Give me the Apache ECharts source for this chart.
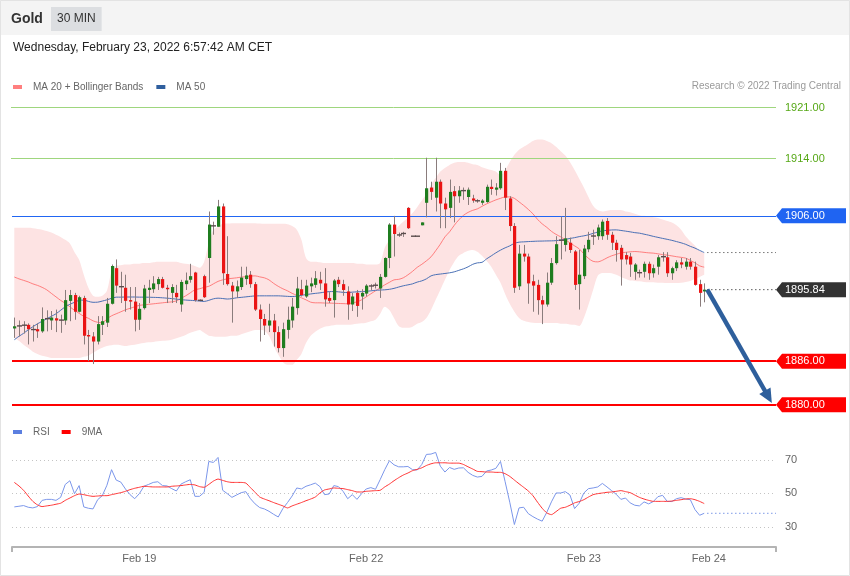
<!DOCTYPE html>
<html><head><meta charset="utf-8">
<script src="https://cdn.jsdelivr.net/npm/echarts@6/dist/echarts.min.js"></script>
<style>html,body{margin:0;padding:0;background:#fff;}#c{width:850px;height:576px;}</style>
</head><body><div id="c"></div>
<script>
// ---- data ----
const open = [1890.5,1890.8,1890.9,1891.0,1890.4,1890.4,1890.1,1891.8,1891.6,1891.9,
1891.6,1891.6,1894.3,1895.1,1892.8,1894.7,1889.6,1889.4,1888.7,1891.0,
1891.3,1893.9,1898.8,1896.3,1896.1,1894.4,1894.2,1891.7,1893.3,1895.8,
1895.9,1896.6,1897.3,1896.1,1895.4,1895.4,1893.8,1896.6,1897.2,1898.2,
1894.4,1897.7,1900.2,1904.65,1904.5,1907.3,1898.0,1896.4,1895.6,1896.2,
1897.3,1897.9,1896.6,1893.1,1891.8,1890.9,1891.6,1890.0,1887.8,1890.3,
1891.6,1893.3,1895.9,1894.9,1896.3,1896.5,1897.2,1896.7,1894.7,1894.4,
1897.2,1896.6,1895.6,1893.8,1895.4,1894.9,1895.3,1896.4,1896.4,1896.0,
1897.6,1900.2,1904.8,1903.4,1903.6,1907.1,1903.2,1903.2,1904.7,1907.8,
1909.9,1908.5,1910.7,1907.7,1907.1,1909.4,1908.7,1909.5,1908.6,1908.4,
1908.1,1907.8,1907.9,1910.0,1909.6,1909.8,1912.2,1908.4,1904.6,1896.3,
1900.8,1900.4,1897.0,1896.5,1894.4,1893.8,1896.8,1899.5,1902.6,1902.0,
1902.3,1901.1,1896.6,1897.7,1901.4,1903.2,1903.2,1903.2,1905.3,1903.4,
1902.3,1901.6,1900.6,1900.4,1898.3,1898.2,1898.3,1899.4,1898.1,1899.0,
1900.4,1900.3,1898.1,1898.8,1899.6,1899.0,1899.7,1899.0,1896.6,1895.6];
const high = [1892.0,1891.6,1891.5,1891.2,1891.0,1891.2,1893.4,1893.0,1892.9,1893.1,
1892.4,1895.8,1895.8,1895.4,1895.0,1895.0,1890.3,1890.0,1892.2,1892.2,
1894.7,1899.3,1900.0,1898.3,1897.9,1896.2,1896.2,1894.0,1896.5,1897.2,
1897.7,1897.6,1897.6,1896.5,1896.6,1896.5,1897.2,1898.2,1899.4,1898.3,
1894.5,1897.9,1906.6,1905.2,1908.2,1907.7,1903.2,1896.9,1897.1,1899.0,
1899.0,1898.4,1896.9,1893.8,1892.5,1893.9,1892.5,1890.8,1891.3,1893.5,
1894.7,1897.6,1897.2,1897.2,1897.5,1898.4,1898.3,1898.8,1895.5,1897.3,
1897.6,1897.2,1896.3,1895.4,1895.8,1895.9,1896.6,1896.6,1896.8,1898.0,
1900.3,1905.0,1906.0,1903.7,1903.8,1907.2,1903.2,1903.2,1905.1,1914.0,
1910.7,1914.0,1911.0,1908.5,1911.0,1910.1,1910.1,1909.9,1909.9,1908.9,
1908.3,1908.3,1910.3,1911.0,1910.5,1913.3,1912.6,1908.7,1905.0,1902.0,
1902.0,1900.8,1897.9,1897.2,1895.0,1898.2,1900.2,1903.2,1905.9,1907.1,
1903.0,1901.3,1901.3,1902.0,1903.8,1904.1,1904.8,1905.5,1905.7,1903.8,
1902.7,1902.0,1901.0,1900.9,1899.5,1898.6,1899.7,1899.7,1899.3,1900.6,
1901.0,1901.0,1899.0,1899.9,1900.2,1900.2,1900.2,1899.7,1897.2,1896.7];
const low = [1889.2,1889.4,1889.8,1888.3,1888.7,1889.2,1889.9,1890.1,1890.3,1890.0,
1889.9,1891.0,1891.5,1891.7,1892.7,1888.3,1886.0,1885.6,1888.3,1889.6,
1890.7,1893.8,1895.4,1894.0,1892.8,1893.1,1890.1,1890.3,1893.1,1894.0,
1895.4,1895.8,1896.0,1894.0,1894.0,1894.0,1892.8,1895.8,1896.8,1894.2,
1894.3,1894.7,1896.8,1903.4,1904.5,1896.5,1896.4,1891.3,1894.7,1895.8,
1896.5,1896.1,1892.9,1888.7,1889.6,1890.0,1888.0,1887.2,1886.6,1889.1,
1890.6,1892.4,1894.9,1894.7,1895.5,1896.1,1895.8,1893.5,1894.0,1892.0,
1896.2,1895.0,1891.7,1892.9,1892.1,1893.1,1894.9,1895.8,1896.0,1894.7,
1897.5,1898.8,1900.4,1903.1,1903.1,1904.2,1903.2,1903.2,1904.7,1905.8,
1908.2,1906.6,1904.3,1904.3,1905.7,1905.1,1907.8,1908.2,1907.5,1907.8,
1907.8,1907.5,1907.8,1908.9,1908.8,1909.6,1906.8,1903.9,1895.4,1895.8,
1899.7,1893.9,1892.8,1892.4,1891.1,1893.5,1896.5,1899.3,1900.0,1901.1,
1900.9,1895.8,1893.1,1897.3,1901.0,1902.0,1902.7,1902.7,1902.7,1901.3,
1899.7,1896.4,1899.3,1897.6,1897.2,1897.5,1897.5,1897.2,1897.5,1897.9,
1899.7,1897.6,1897.2,1898.4,1898.8,1898.6,1898.6,1896.4,1893.5,1894.1];
const close = [1890.8,1890.9,1891.0,1890.4,1890.3,1890.1,1891.8,1891.9,1892.0,1891.6,
1891.7,1894.4,1895.1,1892.8,1894.8,1889.5,1889.4,1888.7,1891.1,1891.5,
1893.9,1899.1,1896.4,1896.2,1894.3,1894.2,1891.7,1893.2,1896.0,1896.1,
1896.7,1897.3,1896.1,1895.9,1896.2,1894.8,1896.9,1897.1,1897.7,1894.4,
1894.35,1894.8,1904.8,1904.6,1907.3,1898.1,1896.6,1895.6,1896.3,1897.5,
1897.8,1896.6,1893.1,1891.8,1890.9,1891.6,1890.0,1887.8,1890.4,1891.7,
1893.5,1896.0,1895.1,1896.4,1896.7,1897.4,1896.7,1894.5,1894.3,1897.1,
1896.6,1895.8,1893.8,1894.9,1893.6,1895.4,1896.4,1896.3,1896.5,1897.6,
1900.2,1904.8,1903.5,1903.35,1903.55,1904.3,1903.2,1903.2,1905.1,1909.8,
1909.3,1910.7,1907.7,1906.9,1909.3,1908.7,1909.5,1909.45,1909.6,1908.1,
1908.05,1908.1,1910.0,1909.7,1909.9,1912.2,1908.5,1904.6,1896.1,1900.8,
1900.4,1896.7,1896.4,1894.4,1893.8,1896.8,1899.5,1902.1,1902.7,1902.9,
1901.3,1896.5,1897.9,1901.5,1902.7,1903.25,1904.4,1905.2,1903.4,1902.3,
1901.3,1900.0,1900.0,1899.3,1899.3,1898.15,1899.4,1898.1,1898.8,1900.3,
1900.35,1898.1,1898.8,1899.6,1899.3,1899.7,1899.0,1896.5,1895.4,1895.84];
const bbUpper = [1904.35,1904.35,1904.35,1904.35,1904.3,1904.2,1904.1,1903.9,1903.7,1903.4,
1903.1,1902.7,1902.2,1901.0,1899.95,1897.9,1896.1,1895.0,1894.85,1895.0,
1895.7,1898.3,1899.1,1899.2,1899.3,1899.3,1899.4,1899.4,1899.5,1899.5,
1899.6,1899.7,1899.7,1899.7,1899.7,1899.7,1899.5,1899.4,1899.3,1899.1,
1898.85,1899.7,1902.3,1904.1,1904.5,1904.9,1904.95,1905.0,1905.0,1905.0,
1905.0,1905.0,1905.0,1904.95,1904.9,1904.9,1904.9,1904.9,1904.9,1904.85,
1904.6,1904.1,1902.7,1900.2,1899.7,1899.7,1899.6,1899.5,1899.5,1899.5,
1899.5,1899.5,1899.5,1899.5,1899.4,1899.4,1899.3,1899.3,1899.3,1899.5,
1901.6,1902.7,1903.8,1904.6,1905.2,1905.7,1906.4,1907.2,1908.1,1909.0,
1910.3,1911.2,1912.1,1912.6,1913.0,1913.3,1913.4,1913.4,1913.3,1913.1,
1913.0,1912.7,1912.5,1912.3,1912.1,1911.6,1912.3,1913.4,1914.4,1915.1,
1915.5,1915.9,1916.3,1916.5,1916.5,1916.3,1916.0,1915.5,1914.9,1914.3,
1913.4,1912.3,1911.1,1909.9,1908.6,1907.4,1906.8,1906.6,1906.7,1906.8,
1906.8,1906.8,1906.6,1906.5,1906.3,1906.1,1906.0,1905.9,1905.8,1905.7,
1905.5,1905.3,1905.1,1904.7,1904.1,1903.2,1902.5,1901.9,1901.2,1900.9];
const bbLower = [1889.2,1888.8,1888.25,1887.8,1887.3,1887.0,1886.75,1886.6,1886.45,1886.45,
1886.45,1886.45,1886.45,1886.45,1886.45,1886.6,1886.75,1887.15,1887.55,1887.85,
1888.1,1888.2,1888.25,1888.2,1888.1,1888.2,1888.25,1888.4,1888.5,1888.6,
1888.65,1888.75,1888.8,1888.85,1888.95,1889.15,1889.35,1889.6,1889.9,1890.1,
1890.3,1889.9,1889.5,1889.4,1889.35,1889.35,1889.4,1889.5,1889.5,1889.7,
1889.9,1890.1,1890.3,1890.3,1890.2,1889.5,1888.1,1886.9,1885.9,1885.5,
1885.5,1886.2,1887.0,1888.5,1889.5,1890.05,1890.45,1890.75,1890.85,1890.95,
1891.0,1891.0,1891.0,1891.05,1891.15,1891.2,1891.3,1891.5,1891.7,1892.5,
1893.5,1893.05,1891.95,1890.85,1890.6,1890.6,1890.75,1891.15,1891.4,1891.95,
1893.05,1894.45,1895.8,1897.2,1898.55,1899.65,1900.5,1900.9,1901.2,1901.3,
1901.05,1900.5,1899.8,1899.0,1897.9,1896.8,1895.25,1893.9,1892.8,1891.95,
1891.55,1891.4,1891.3,1891.25,1891.25,1891.25,1891.25,1891.25,1891.15,1891.15,
1891.05,1891.0,1890.85,1891.95,1893.75,1895.8,1897.75,1898.15,1898.15,1898.1,
1897.9,1897.6,1897.35,1897.1,1897.05,1897.0,1896.9,1896.85,1896.85,1896.8,
1896.8,1896.75,1896.75,1896.75,1896.8,1896.9,1897.05,1897.35,1897.6,1897.9];
const ma20 = [1897.58,1897.33,1897.12,1896.91,1896.64,1896.43,1896.16,1895.82,1895.33,1894.85,
1894.37,1893.96,1893.48,1893.00,1892.58,1892.17,1891.90,1891.55,1891.35,1891.28,
1891.83,1892.24,1892.52,1892.79,1893.07,1893.27,1893.48,1893.68,1893.75,1893.82,
1893.89,1893.96,1894.03,1894.10,1894.16,1894.30,1894.65,1894.99,1895.40,1895.82,
1895.96,1896.16,1896.30,1896.64,1896.98,1897.19,1897.33,1897.40,1897.47,1897.57,
1897.63,1897.70,1897.74,1897.60,1897.47,1897.19,1896.71,1896.30,1895.96,1895.68,
1895.33,1895.06,1894.72,1894.44,1894.12,1894.03,1894.03,1894.00,1893.99,1893.97,
1893.94,1893.92,1893.90,1894.03,1894.16,1894.44,1894.85,1895.27,1895.68,1896.09,
1896.50,1896.85,1897.19,1897.26,1897.47,1897.88,1898.36,1898.91,1899.33,1899.81,
1900.36,1901.20,1902.10,1903.11,1903.80,1904.69,1905.45,1906.07,1906.48,1906.76,
1906.96,1907.31,1907.65,1907.93,1908.20,1908.41,1908.61,1908.61,1908.41,1907.93,
1907.44,1906.89,1906.28,1905.52,1904.90,1904.42,1903.87,1903.45,1903.11,1902.70,
1902.29,1901.87,1901.46,1900.77,1900.15,1899.74,1899.67,1899.88,1900.22,1900.50,
1900.70,1900.91,1900.98,1901.05,1901.09,1901.05,1900.98,1900.91,1900.87,1900.77,
1900.67,1900.59,1900.49,1900.38,1900.29,1900.18,1899.87,1899.53,1899.12,1898.94];
const ma50 = [1888.94,1889.42,1889.83,1890.32,1890.73,1891.14,1891.49,1891.83,1892.17,1892.52,
1893.00,1893.48,1893.82,1894.10,1894.37,1894.40,1894.23,1894.10,1894.12,1894.27,
1894.44,1894.65,1894.81,1894.81,1894.83,1894.83,1894.83,1894.81,1894.81,1894.80,
1894.78,1894.76,1894.72,1894.67,1894.61,1894.54,1894.47,1894.41,1894.37,1894.33,
1894.27,1894.22,1894.37,1894.58,1894.67,1894.62,1894.55,1894.61,1894.72,1894.78,
1894.85,1894.92,1894.98,1894.99,1894.99,1894.99,1894.99,1894.99,1894.96,1894.92,
1894.89,1894.95,1895.06,1895.16,1895.25,1895.33,1895.40,1895.50,1895.57,1895.58,
1895.54,1895.47,1895.44,1895.50,1895.54,1895.58,1895.61,1895.68,1895.75,1895.79,
1895.82,1895.89,1896.02,1896.20,1896.37,1896.50,1896.64,1896.88,1897.05,1897.33,
1897.74,1897.91,1897.99,1898.07,1898.16,1898.29,1898.50,1898.71,1898.98,1899.33,
1899.53,1899.60,1900.08,1900.49,1900.91,1901.28,1901.60,1901.87,1902.22,1902.38,
1902.42,1902.46,1902.49,1902.52,1902.53,1902.55,1902.56,1902.59,1902.67,1902.77,
1902.89,1903.00,1903.14,1903.25,1903.39,1903.59,1903.77,1903.94,1904.00,1904.06,
1904.07,1903.99,1903.90,1903.80,1903.69,1903.62,1903.48,1903.34,1903.18,1903.04,
1902.90,1902.77,1902.63,1902.46,1902.29,1902.08,1901.80,1901.56,1901.25,1900.95];
const rsi = [41.9,42.3,42.7,41.7,41.3,42.1,45.8,46.4,46.4,45.8,
47.6,55.3,57.5,49.8,54.6,41.9,41.1,40.7,46.2,48.6,
54.8,64.1,57.9,56.7,52.6,49.2,46.8,49.8,54.2,55.3,
56.5,56.9,54.6,54.4,52.8,51.4,55.5,56.9,58.1,48.2,
48.2,50.6,69.0,68.4,71.4,51.8,49.8,47.6,49.0,50.4,
51.0,46.8,43.7,41.5,40.7,39.3,37.5,35.9,40.9,44.5,
48.4,53.2,52.6,54.2,55.1,56.1,54.0,49.2,49.6,54.6,
54.0,51.2,46.8,49.2,46.4,49.8,52.6,53.4,52.4,58.1,
64.1,69.4,67.0,65.8,65.8,66.0,64.1,63.9,67.2,73.2,
73.4,74.4,66.2,62.7,65.4,64.3,65.1,65.2,62.5,60.7,
59.7,60.1,63.3,63.9,64.9,69.0,56.9,44.7,31.4,41.3,
41.7,37.9,36.1,34.6,33.4,38.7,44.9,50.2,50.2,51.0,
49.0,40.9,44.1,50.2,52.8,53.2,53.8,55.9,53.8,51.6,
49.4,46.4,47.2,44.3,42.9,42.5,44.9,43.7,45.1,48.0,
48.8,45.2,45.1,46.8,47.4,46.6,46.2,40.3,36.9,38.1];
const rsiMA = [56.5,54.4,51.8,48.4,45.2,43.1,42.1,42.5,42.9,43.5,
44.1,45.8,47.2,48.6,49.6,49.2,48.6,48.2,48.4,48.6,
48.6,49.2,49.8,50.4,51.2,52.2,53.0,53.6,54.2,54.0,
53.8,53.8,53.8,53.8,54.2,54.4,54.6,55.0,55.3,55.0,
54.0,53.6,55.3,57.3,58.5,57.7,56.9,56.5,56.5,56.5,
56.1,53.4,50.6,47.8,46.6,45.6,44.5,43.5,42.5,41.3,
42.5,43.5,44.5,45.6,46.6,47.8,50.2,52.0,52.6,53.2,
53.0,52.8,52.2,51.6,50.8,50.8,51.2,51.4,51.6,51.8,
53.8,55.5,57.5,59.3,60.9,62.1,63.5,64.3,65.2,66.6,
67.6,68.2,68.2,68.2,68.0,68.0,68.0,67.2,65.8,64.5,
63.1,62.9,62.7,62.7,62.5,62.5,61.7,60.1,57.9,55.7,
53.6,51.4,48.6,44.7,41.1,38.3,37.3,39.1,41.1,41.7,
42.9,44.3,45.1,46.2,47.8,49.2,49.8,50.2,50.6,50.8,
51.2,51.6,51.0,50.4,49.0,47.6,46.6,45.8,45.2,45.2,
45.2,45.2,45.4,45.8,46.2,46.6,46.8,46.2,45.2,43.9];
const dayLabels = ['Feb 19','Feb 22','Feb 23','Feb 24'];
const dayLabelIndex = [27, 76, 123, 150];
const slotCount = 165;
const resistanceLevels = [1921, 1914];
const pivotLevel = 1906;
const supportLevels = [1886, 1880];
const lastPrice = 1895.84;
const rsiLevels = [30, 50, 70];
const arrowFrom = [149, 1895.84];
const arrowTo = [163.6, 1880.25];

// ---- build ----
const categories = [];
for (let i = 0; i < slotCount; i++) {
  const k = dayLabelIndex.indexOf(i);
  categories.push(k >= 0 ? dayLabels[k] : 's' + i);
}
const candleData = open.map((o, i) => [i, o, close[i], low[i], high[i]]);
const bandWidth = bbUpper.map((u, i) => +(u - bbLower[i]).toFixed(3));
const FONT = 'Liberation Sans, Arial, sans-serif';
const GRID_LEFT = 12, GRID_RIGHT = 776;

const chart = echarts.init(document.getElementById('c'), null, {renderer: 'canvas'});
const option = {
  animation: false,
  textStyle: {fontFamily: FONT},
  title: [
    {text: 'Gold', left: 11, top: 12, padding: 0, textStyle: {fontSize: 14, fontWeight: 'bold', color: '#333', fontFamily: FONT}},
    {text: '30 MIN', left: 51, top: 7, padding: [6, 6, 6, 6], backgroundColor: '#dcdee1', textStyle: {fontSize: 12, fontWeight: 'normal', color: '#333', fontFamily: FONT}},
    {text: 'Wednesday, February 23, 2022 6:57:42 AM CET', left: 13, top: 42, padding: 0, textStyle: {fontSize: 12, fontWeight: 'normal', color: '#222', fontFamily: FONT}},
    {text: 'Research \u00a9 2022 Trading Central', right: 9, top: 81, padding: 0, textStyle: {fontSize: 10, fontWeight: 'normal', color: '#9a9a9a', fontFamily: FONT}}
  ],
  legend: [
    {left: 13, top: 82, padding: 0, itemWidth: 9, itemHeight: 4, itemGap: 13, icon: 'rect', selectedMode: false,
     textStyle: {fontSize: 10, color: '#666', padding: [0, 0, 0, 6]}, data: ['MA 20 + Bollinger Bands', 'MA 50']},
    {left: 13, top: 427, padding: 0, itemWidth: 9, itemHeight: 4, itemGap: 12, icon: 'rect', selectedMode: false,
     textStyle: {fontSize: 10, color: '#666', padding: [0, 0, 0, 6]}, data: ['RSI', '9MA']}
  ],
  grid: [
    {left: GRID_LEFT, width: GRID_RIGHT - GRID_LEFT, top: 96, height: 316},
    {left: GRID_LEFT, width: GRID_RIGHT - GRID_LEFT, top: 443, height: 104}
  ],
  xAxis: [
    {type: 'category', gridIndex: 0, data: categories, boundaryGap: true, show: false},
    {type: 'category', gridIndex: 1, data: categories, boundaryGap: true, position: 'bottom',
     axisLine: {show: false}, axisTick: {show: false}, splitLine: {show: false},
     axisLabel: {interval: (i) => dayLabelIndex.indexOf(i) >= 0, color: '#666', fontSize: 11, margin: 6}},
    {type: 'value', gridIndex: 1, min: 0, max: 1, interval: 1, position: 'bottom',
     axisLine: {show: true, onZero: false, lineStyle: {color: '#b4b4b4', width: 2}},
     axisTick: {show: true, length: 5, lineStyle: {color: '#b4b4b4', width: 2}},
     axisLabel: {show: false}, splitLine: {show: false}}
  ],
  yAxis: [
    {type: 'value', gridIndex: 0, min: 1879, max: 1922.5, show: false},
    {type: 'value', gridIndex: 1, min: 18, max: 80, position: 'right',
     axisLine: {show: false}, axisTick: {show: false, customValues: rsiLevels},
     axisLabel: {customValues: rsiLevels, color: '#666', fontSize: 11, margin: 9},
     splitLine: {show: true, lineStyle: {color: '#c4c4c4', width: 1, type: [1, 3]}}}
  ],
  series: [
    {name: 'bbLow', type: 'line', xAxisIndex: 0, yAxisIndex: 0, data: bbLower, stack: 'bb', symbol: 'none',
     smooth: 0.3, lineStyle: {opacity: 0}, silent: true, z: 1},
    {name: 'bbBand', type: 'line', xAxisIndex: 0, yAxisIndex: 0, data: bandWidth, stack: 'bb', symbol: 'none',
     smooth: 0.3, lineStyle: {opacity: 0}, areaStyle: {color: '#fde3e3', opacity: 1}, silent: true, z: 1},
    {name: 'MA 20 + Bollinger Bands', type: 'line', xAxisIndex: 0, yAxisIndex: 0, data: ma20, symbol: 'none',
     color: '#ff7f7f', smooth: 0.3, lineStyle: {width: 1, color: 'rgba(255,100,100,0.8)'}, silent: true, z: 3,
     markLine: {silent: true, symbol: 'none', animation: false,
       data: [
         {yAxis: pivotLevel, lineStyle: {color: '#2166f3', width: 1, type: 'solid'}, label: {show: false}},
         ...supportLevels.map(v => ({yAxis: v, lineStyle: {color: '#ff0000', width: 2, type: 'solid'}, label: {show: false}}))
       ]}},
    {name: 'MA 50', type: 'line', xAxisIndex: 0, yAxisIndex: 0, data: ma50, symbol: 'none',
     color: '#2f5f9e', smooth: 0.3, lineStyle: {width: 1, color: '#4a70b5'}, silent: true, z: 3},
    {name: 'candles', type: 'custom', xAxisIndex: 0, yAxisIndex: 0, data: candleData, z: 10,
     encode: {x: 0, y: [1, 2, 3, 4]}, silent: true,
     renderItem: function (params, api) {
       const i = api.value(0), o = api.value(1), c = api.value(2), l = api.value(3), h = api.value(4);
       const pO = api.coord([i, o]), pC = api.coord([i, c]), pL = api.coord([i, l]), pH = api.coord([i, h]);
       const cx = Math.round(pO[0]);
       const flat = Math.abs(o - c) < 0.12;
       const children = [];
       if (pL[1] - pH[1] > 0.5) {
         children.push({type: 'line', shape: {x1: cx + 0.5, y1: pH[1], x2: cx + 0.5, y2: pL[1]},
           style: {stroke: '#8a7c7c', lineWidth: 1}});
       }
       if (flat) {
         const ym = (pO[1] + pC[1]) / 2;
         children.push({type: 'rect', shape: {x: cx - 2, y: ym - 0.7, width: 5, height: 1.4}, style: {fill: '#5a4c4c'}});
       } else {
         const top = Math.min(pO[1], pC[1]);
         const hh = Math.max(Math.abs(pO[1] - pC[1]), 1);
         children.push({type: 'rect', shape: {x: cx - 1, y: top, width: 3.2, height: hh},
           style: {fill: c > o ? '#1f7d1f' : '#ea1414'}});
       }
       return {type: 'group', children: children};
     }},
    {name: 'RSI', type: 'line', xAxisIndex: 1, yAxisIndex: 1, data: rsi, symbol: 'none', color: '#5b7fe0',
     lineStyle: {width: 1, color: '#7b96ea'}, silent: true},
    {name: '9MA', type: 'line', xAxisIndex: 1, yAxisIndex: 1, data: rsiMA, symbol: 'none', color: '#ff0000',
     smooth: 0.2, lineStyle: {width: 1, color: '#ff3030'}, silent: true}
  ]
};
chart.setOption(option);

function toPx(ax, v, idx) {
  const f = Math.floor(idx), t = idx - f;
  const a = chart.convertToPixel({xAxisIndex: ax, yAxisIndex: ax}, [f, v]);
  if (t === 0) return a;
  const b = chart.convertToPixel({xAxisIndex: ax, yAxisIndex: ax}, [f + 1, v]);
  return [a[0] + (b[0] - a[0]) * t, a[1]];
}
const g = [];
g.push({type: 'rect', shape: {x: 0, y: 0, width: 850, height: 35}, style: {fill: '#f4f4f4'}, z: -10});
g.push({type: 'rect', shape: {x: 0.5, y: 0.5, width: 849, height: 575}, style: {fill: 'none', stroke: '#e3e3e3', lineWidth: 1}, z: 50});

// resistance levels: crisp light-green lines with green value labels
resistanceLevels.forEach(v => {
  const y = Math.round(toPx(0, v, 0)[1]) + 0.5;
  g.push({type: 'line', shape: {x1: GRID_LEFT - 1, y1: y, x2: GRID_RIGHT, y2: y}, style: {stroke: '#9fd67e', lineWidth: 1}, z: 5});
  g.push({type: 'text', x: 785, y: y, style: {text: v.toFixed(2), fill: '#56a816', font: '11px ' + FONT, verticalAlign: 'middle', textVerticalAlign: 'middle'}, z: 21});
});

function tag(value, color) {
  const y = toPx(0, value, 0)[1];
  g.push({type: 'polygon', shape: {points: [[GRID_RIGHT, y], [GRID_RIGHT + 6, y - 7.5], [846, y - 7.5], [846, y + 7.5], [GRID_RIGHT + 6, y + 7.5]]},
    style: {fill: color}, z: 20});
  g.push({type: 'text', x: 785, y: y, style: {text: value.toFixed(2), fill: '#fff', font: '11px ' + FONT, verticalAlign: 'middle', textVerticalAlign: 'middle'}, z: 21});
}
tag(pivotLevel, '#1f64f2');
tag(lastPrice, '#333333');
supportLevels.forEach(v => tag(v, '#ff0000'));

const last = open.length - 1;
function dotted(ax, v, color) {
  const p = toPx(ax, v, last);
  g.push({type: 'line', shape: {x1: p[0] + 3, y1: p[1], x2: GRID_RIGHT, y2: p[1]},
    style: {stroke: color, lineWidth: 1, lineDash: [1.2, 2.8]}, z: 15});
}
dotted(0, close[last], '#333');
dotted(0, ma50[last], '#555');
dotted(1, rsi[last], '#5b7fe0');

// forecast arrow
const a0 = toPx(0, arrowFrom[1], arrowFrom[0]);
const a1 = toPx(0, arrowTo[1], arrowTo[0]);
a0[0] += 3;
const dx = a1[0] - a0[0], dy = a1[1] - a0[1], len = Math.sqrt(dx * dx + dy * dy);
const ux = dx / len, uy = dy / len;
const headL = 14, headW = 6.5;
const bx = a1[0] - ux * headL, by = a1[1] - uy * headL;
g.push({type: 'line', shape: {x1: a0[0], y1: a0[1], x2: bx + ux * 2, y2: by + uy * 2}, style: {stroke: '#2e5f9c', lineWidth: 4.5}, z: 22});
g.push({type: 'polygon', shape: {points: [[a1[0], a1[1]], [bx - uy * headW, by + ux * headW], [bx + uy * headW, by - ux * headW]]},
  style: {fill: '#2e5f9c'}, z: 22});

chart.setOption({graphic: g});
</script></body></html>
